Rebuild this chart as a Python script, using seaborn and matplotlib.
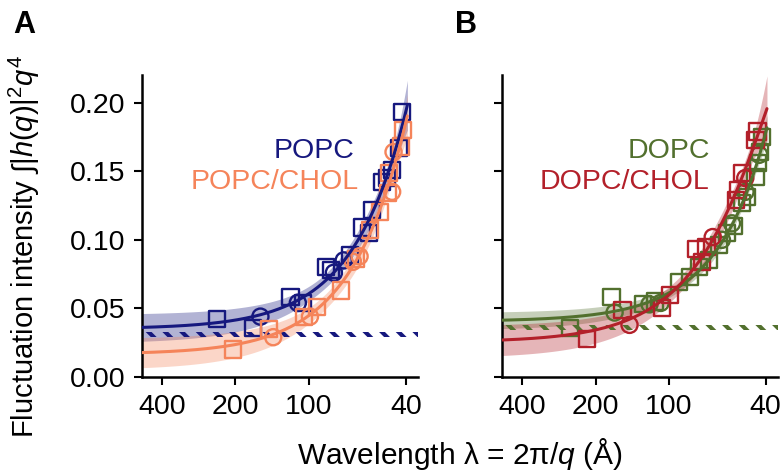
import numpy as np
import matplotlib
matplotlib.use("Agg")
import matplotlib.pyplot as plt
import seaborn as sns

# wavelength (A) and fluctuation intensity
popc_sq_wl = [238, 170, 119, 106, 85, 81, 68, 60.5, 56.6, 55, 50, 48, 45.6, 42.7, 41.6]
popc_sq_val = [0.042, 0.036, 0.058, 0.054, 0.080, 0.078, 0.089, 0.109, 0.105, 0.122, 0.142, 0.145, 0.151, 0.167, 0.193]
popc_ci_wl = [158, 111, 79, 72]
popc_ci_val = [0.044, 0.054, 0.076, 0.085]

popc_chol_sq_wl = [205, 146, 105, 93, 73.7, 64, 56, 51, 47.6, 47, 42, 41]
popc_chol_sq_val = [0.020, 0.035, 0.044, 0.051, 0.063, 0.086, 0.107, 0.120, 0.134, 0.149, 0.168, 0.180]
popc_chol_ci_wl = [140, 99, 66, 62, 45.6, 45]
popc_chol_ci_val = [0.029, 0.044, 0.084, 0.088, 0.135, 0.164]

dopc_sq_wl = [255, 172, 128, 114, 91, 82, 75, 68.5, 62, 57.6, 54, 50, 47.6, 44, 43, 42.2, 41.3]
dopc_sq_val = [0.036, 0.058, 0.053, 0.055, 0.069, 0.073, 0.080, 0.085, 0.096, 0.105, 0.110, 0.127, 0.131, 0.146, 0.156, 0.164, 0.175]
dopc_ci_wl = [167, 120, 108, 60.5, 55, 48.4, 42.5]
dopc_ci_val = [0.047, 0.053, 0.054, 0.100, 0.112, 0.135, 0.162]

dopc_chol_sq_wl = [217, 155, 107, 99, 77, 73, 70, 53, 52, 50, 44, 43.2]
dopc_chol_sq_val = [0.028, 0.049, 0.050, 0.060, 0.093, 0.084, 0.095, 0.129, 0.136, 0.149, 0.173, 0.179]
dopc_chol_ci_wl = [145, 66, 48.5]
dopc_chol_ci_val = [0.038, 0.102, 0.145]

# hatched reference levels
popc_ref = (0.0295, 0.033)
dopc_ref = (0.0345, 0.038)

navy = "#16187e"
orange = "#f5845a"
green = "#52702e"
red = "#b3202a"

sns.set_style("ticks")
plt.rcParams["font.family"] = ["Liberation Sans", "DejaVu Sans"]
plt.rcParams["mathtext.fontset"] = "custom"
plt.rcParams["mathtext.rm"] = "Liberation Sans"
plt.rcParams["mathtext.it"] = "Liberation Sans:italic"
plt.rcParams["hatch.linewidth"] = 3.0
plt.rcParams["axes.linewidth"] = 1.8
for key in ["text.color", "axes.labelcolor", "xtick.color", "ytick.color", "axes.edgecolor"]:
    plt.rcParams[key] = "black"

XMAX, XMIN = 483, 35.7
grid = np.geomspace(XMAX, 39.5, 300)


def fit_curve(wl, val):
    q = 2 * np.pi / np.asarray(wl, float)
    val = np.asarray(val, float)
    X = np.column_stack([np.ones_like(q), q**2, q**4])
    coef = np.linalg.lstsq(X, val, rcond=None)[0]
    s2 = np.sum((X @ coef - val) ** 2) / (len(val) - 3)
    cov = s2 * np.linalg.inv(X.T @ X)
    qg = 2 * np.pi / grid
    G = np.column_stack([np.ones_like(qg), qg**2, qg**4])
    fit = G @ coef
    se = np.sqrt(np.einsum("ij,jk,ik->i", G, cov, G))
    return fit, se


def draw_set(ax, sq_wl, sq_val, ci_wl, ci_val, color):
    fit, se = fit_curve(sq_wl + ci_wl, sq_val + ci_val)
    ax.fill_between(grid, fit - 3 * se, fit + 3 * se, color=color, alpha=0.33, lw=0, zorder=2)
    sns.scatterplot(x=sq_wl, y=sq_val, marker="s", s=135, facecolor="none",
                    edgecolor=color, linewidth=1.7, ax=ax, zorder=3)
    sns.scatterplot(x=ci_wl, y=ci_val, marker="o", s=135, facecolor="none",
                    edgecolor=color, linewidth=1.7, ax=ax, zorder=3)
    sns.lineplot(x=grid, y=fit, color=color, lw=2.2, ax=ax, zorder=4)


fig = plt.figure(figsize=(7.8, 4.73), dpi=100)
axA = fig.add_axes([0.182, 0.203, 0.354, 0.638])
axB = fig.add_axes([0.644, 0.203, 0.353, 0.638])

axA.fill_between([XMAX, XMIN], *popc_ref, facecolor="none", edgecolor=navy,
                 hatch="\\\\", lw=0, zorder=2.5)
draw_set(axA, popc_sq_wl, popc_sq_val, popc_ci_wl, popc_ci_val, navy)
draw_set(axA, popc_chol_sq_wl, popc_chol_sq_val, popc_chol_ci_wl, popc_chol_ci_val, orange)

draw_set(axB, dopc_sq_wl, dopc_sq_val, dopc_ci_wl, dopc_ci_val, green)
draw_set(axB, dopc_chol_sq_wl, dopc_chol_sq_val, dopc_chol_ci_wl, dopc_chol_ci_val, red)
axB.fill_between([XMAX, XMIN], *dopc_ref, facecolor="none", edgecolor=green,
                 hatch="\\\\", lw=0, zorder=2.5)

for ax in (axA, axB):
    ax.set_xscale("log")
    ax.set_xlim(XMAX, XMIN)
    ax.set_ylim(0, 0.22)
    ax.set_xticks([400, 200, 100, 40])
    ax.set_xticklabels(["400", "200", "100", "40"])
    ax.minorticks_off()
    ax.set_yticks([0, 0.05, 0.10, 0.15, 0.20])
    ax.tick_params(labelsize=20.5, length=6, width=1.5, pad=6)
    ax.set_xlabel("")
    ax.set_ylabel("")
    sns.despine(ax=ax)
axA.set_yticklabels(["0.00", "0.05", "0.10", "0.15", "0.20"])
axB.set_yticklabels([])

axA.text(0.768, 0.75, "POPC", color=navy, fontsize=20.5, ha="right", va="center", transform=axA.transAxes)
axA.text(0.786, 0.646, "POPC/CHOL", color=orange, fontsize=20.5, ha="right", va="center", transform=axA.transAxes)
axB.text(0.753, 0.75, "DOPC", color=green, fontsize=20.5, ha="right", va="center", transform=axB.transAxes)
axB.text(0.753, 0.646, "DOPC/CHOL", color=red, fontsize=20.5, ha="right", va="center", transform=axB.transAxes)

fig.text(0.0167, 0.930, "A", fontsize=22, fontweight="bold", ha="left", va="baseline")
fig.text(0.583, 0.930, "B", fontsize=22, fontweight="bold", ha="left", va="baseline")
fig.text(0.031, 0.478, r"Fluctuation intensity ∫$|h(q)|^2q^4$", fontsize=21,
         rotation=90, ha="center", va="center")
fig.text(0.59, 0.02, r"Wavelength λ = 2π/$q$ (Å)", fontsize=21.5, ha="center", va="baseline")

fig.savefig("out.png", dpi=100)
